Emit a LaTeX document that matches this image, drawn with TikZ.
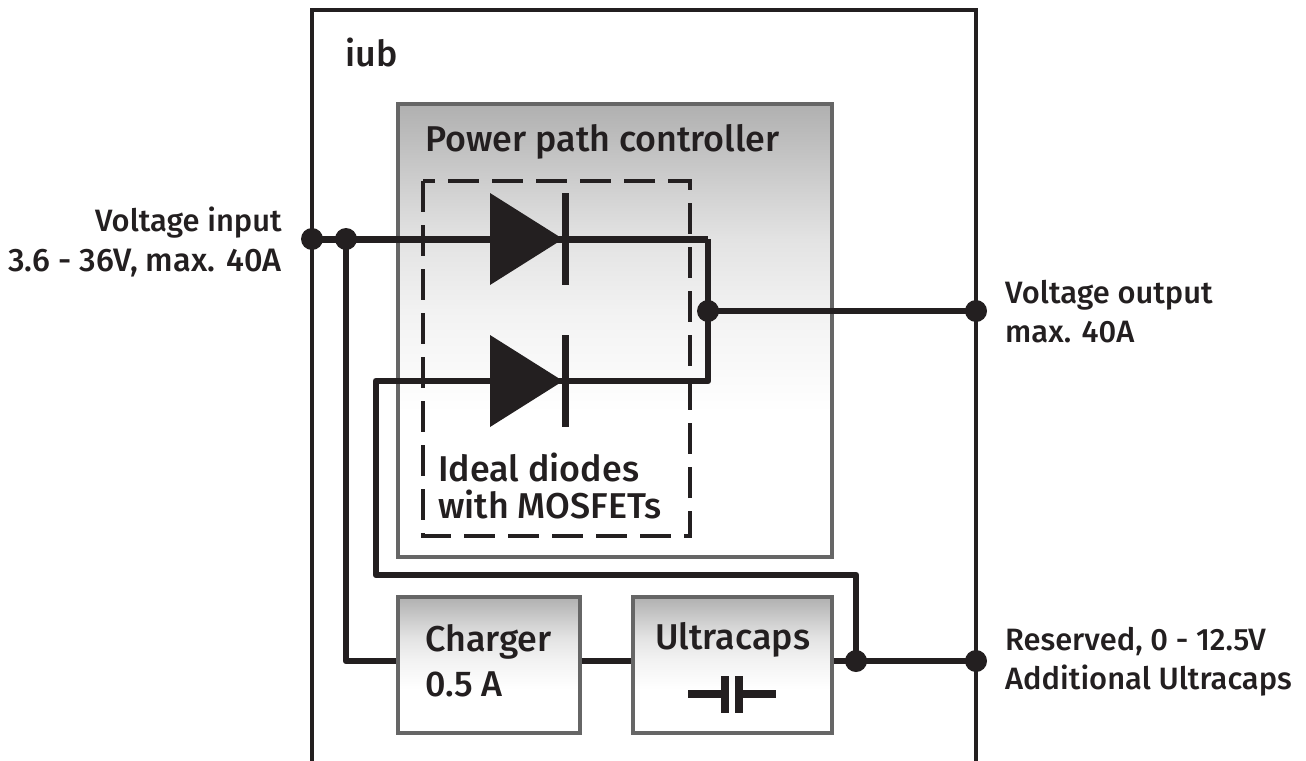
\documentclass[tikz,border=0pt]{standalone}
\usepackage{fontspec}
\setmainfont{Fira Sans Medium}
\usetikzlibrary{calc}
\definecolor{ink}{HTML}{231F20}
\definecolor{boxedge}{HTML}{666666}
\pgfdeclareverticalshading{boxshade}{100bp}{color(0bp)=(white); color(41bp)=(white); color(52bp)=(black!5); color(60bp)=(black!11); color(65.5bp)=(black!18); color(75bp)=(black!31); color(100bp)=(black!31)}
\tikzset{
  x=1bp,y=-1bp,
  wire/.style={draw=ink,line width=6.6bp,line join=round},
  thinline/.style={draw=ink,line width=3.8bp},
  dotn/.style={circle,fill=ink,inner sep=0pt,minimum size=22bp},
  gradbox/.style={draw=boxedge,line width=3.6bp,shading=boxshade,inner sep=0pt},
  lbl/.style={text=ink,anchor=base west,inner sep=0pt,font=\fontsize{36}{40}\selectfont},
  lbls/.style={text=ink,inner sep=0pt,font=\fontsize{31}{36}\selectfont},
  dtri/.style={fill=ink},
  dbar/.style={draw=ink,line width=6.6bp},
  capline/.style={draw=ink,line width=8.4bp},
  dashbox/.style={draw=ink,line width=3.2bp,dash pattern=on 31bp off 13bp}
}
\begin{document}
\begin{tikzpicture}
\useasboundingbox (0,0) rectangle (1306,760);
% boxes
\draw[thinline] (312,780) coordinate (oa) -- (312,10) coordinate (ob) -- (976,10) coordinate (oc) -- (976,780) coordinate (od);
\node[gradbox,minimum width=434bp,minimum height=453bp] (power) at (615,330.5) {};
\node[gradbox,minimum width=182bp,minimum height=136bp] (charger) at (489,665) {};
\node[gradbox,minimum width=199bp,minimum height=136bp] (ultra) at (732.5,665) {};
% dots and junctions
\node[dotn] (inA) at (312,239) {};
\node[dotn] (inB) at (346,239) {};
\node[dotn] (mid) at (708,311) {};
\node[dotn] (out) at (976,311) {};
\node[dotn] (cj) at (856,661) {};
\node[dotn] (res) at (976,661) {};
\coordinate (t1) at (708,239);
\coordinate (t2) at (708,381);
\coordinate (l1) at (376,381);
\coordinate (l2) at (376,575);
\coordinate (l3) at (856,575);
\coordinate (ch1) at (346,661);
% diode shapes
\coordinate (d1a) at (490,193); \coordinate (d1b) at (490,285); \coordinate (d1c) at (563,239);
\coordinate (d2a) at (490,335); \coordinate (d2b) at (490,427); \coordinate (d2c) at (563,381);
% dashed box
\draw[dashbox] (423,181) coordinate (da) rectangle (690,536) coordinate (db);
% wires
\draw[wire,line width=7bp] (inA.center) -- (t1);
\draw[wire] (t1) -- (t2) -- (l1) -- (l2) -- (l3) -- (cj.center);
\draw[wire] (inB.center) -- (ch1) -- (charger.west |- ch1);
\draw[wire] (charger.east |- ch1) -- (ultra.west |- ch1);
\draw[wire] (ultra.east |- ch1) -- (res.center);
\draw[wire] (mid.center) -- (out.center);
% diodes
\fill[dtri] (d1a) -- (d1c) -- (d1b) -- cycle;
\draw[dbar] (565.5,193) coordinate (b1a) -- (565.5,285) coordinate (b1b);
\fill[dtri] (d2a) -- (d2c) -- (d2b) -- cycle;
\draw[dbar] (565.5,335) coordinate (b2a) -- (565.5,427) coordinate (b2b);
% capacitor
\draw[capline] (688,694) coordinate (c1) -- (725,694) coordinate (c2);
\draw[capline] (739,694) coordinate (c3) -- (776,694) coordinate (c4);
\draw[capline] (725,676) -- (725,713);
\draw[capline] (739,676) -- (739,713);
% texts
\node[lbl] (tiub) at (345,66) {iub};
\node[lbl] (tpow) at (425,151) {Power path controller};
\node[lbl] (tid1) at (438,481) {Ideal diodes};
\node[lbl] (tid2) at (438,518) {with MOSFETs};
\node[lbl] (tch1) at (425,651) {Charger};
\node[lbl] (tch2) at (425,696) {0.5 A};
\node[lbl] (tul) at (655,649) {Ultracaps};
\node[lbls,anchor=base east] (tvi1) at (282,231) {Voltage input};
\node[lbls,anchor=base east,font=\fontsize{32.6}{36}\selectfont] (tvi2) at (282,271) {3.6 - 36V, max. 40A};
\node[lbls,anchor=base west] (tvo1) at (1005,303) {Voltage output};
\node[lbls,anchor=base west] (tvo2) at (1005,342) {max. 40A};
\node[lbls,anchor=base west] (trs1) at (1005,650) {Reserved, 0 - 12.5V};
\node[lbls,anchor=base west] (trs2) at (1005,689) {Additional Ultracaps};
\end{tikzpicture}
\end{document}
